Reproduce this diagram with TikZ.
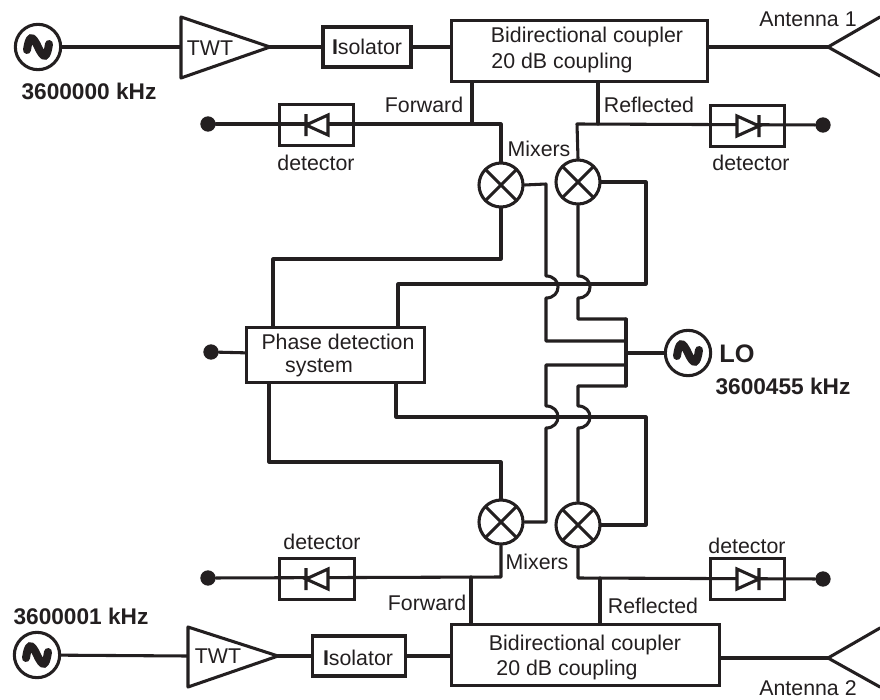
\documentclass[tikz,border=0pt]{standalone}
\usepackage{fontspec}
\setmainfont{Liberation Sans}
\begin{document}
\begin{tikzpicture}[x=0.75pt,y=-0.75pt,
  wire/.style={line width=2.3pt,line join=round,line cap=round,draw=ink},
  lab/.style={font=\fontsize{16}{18}\selectfont,text=ink,inner sep=0pt},
  blab/.style={font=\fontsize{17}{19}\selectfont\bfseries,text=ink,inner sep=0pt},
  block/.style={draw=ink,line width=2.3pt,fill=white,inner sep=0pt,font=\fontsize{16}{18}\selectfont,text=ink,align=center},
  mixer/.style={circle,draw=ink,line width=2.3pt,fill=white,minimum size=33pt,inner sep=0pt,
    path picture={\draw[line width=2.3pt,draw=ink]
      (path picture bounding box.north west)--(path picture bounding box.south east)
      (path picture bounding box.north east)--(path picture bounding box.south west);}},
  source/.style={circle,draw=ink,line width=2.3pt,fill=white,minimum size=34pt,inner sep=0pt,
    path picture={\draw[line width=6pt,draw=ink,line cap=round]
      ([shift={(-11,3)}]path picture bounding box.center)
      .. controls +(2,-14) and +(-6,-13) .. (path picture bounding box.center)
      .. controls +(6,13) and +(-2,14) .. ([shift={(11,-3)}]path picture bounding box.center);}},
  dot/.style={circle,fill=ink,draw=none,minimum size=11.5pt,inner sep=0pt},
  diode/.style={draw=ink,line width=2.3pt,line join=miter,fill=white}
]
\definecolor{ink}{HTML}{231F20}
\useasboundingbox (0,0) rectangle (880,699);
\fill[white] (0,0) rectangle (880,699);

% ---- junction coordinates
\coordinate (fjT) at (472,124);
\coordinate (rjT) at (598,124);
\coordinate (fjB) at (471,577);
\coordinate (rjB) at (600,578);
\coordinate (mixL) at (501,124);
\coordinate (mixR) at (577,124);
\coordinate (mixLb) at (501,577);
\coordinate (mixRb) at (578,578);
\coordinate (antA) at (828,47);
\coordinate (antB) at (828,658);
\coordinate (antAu) at (880,17);
\coordinate (antAd) at (880,76);
\coordinate (antBu) at (880,628);
\coordinate (antBd) at (880,687);
\coordinate (busT) at (626,319);
\coordinate (busB) at (626,386);

% ---- blocks
\node[source] (s1) at (38,47) {};
\node[source] (s2) at (37,655) {};
\node[source] (lo) at (688,353) {};
\node[block,minimum width=66pt,minimum height=30pt] (iso1) at (367,47) {\textbf{I}solator};
\node[block,minimum width=70pt,minimum height=30pt] (iso2) at (359,656) {};
\node[block,minimum width=192pt,minimum height=45.5pt] (cp1) at (579.5,51) {};
\node[block,minimum width=201pt,minimum height=45.5pt] (cp2) at (585.5,655) {};
\node[block,minimum width=133pt,minimum height=41pt] (pd) at (335.5,355) {};
\node[mixer] (m1) at (501,185) {};
\node[mixer] (m2) at (578,182) {};
\node[mixer] (m3) at (501,522) {};
\node[mixer] (m4) at (578,525) {};

\node[dot] (d1) at (208,124) {};
\node[dot] (d2) at (823,125) {};
\node[dot] (d3) at (208,578) {};
\node[dot] (d4) at (823,579) {};
\node[dot] (d5) at (211,352) {};

% ---- amplifiers (triangles)
\coordinate (t1i) at (181,47);
\coordinate (t1o) at (270,47);
\coordinate (t2i) at (188,656);
\coordinate (t2o) at (278,656);

% ---- wires
\draw[wire] (s1) -- (t1i);
\draw[wire] (t1o) -- (iso1);
\draw[wire] (iso1) -- (iso1 -| cp1.west);
\draw[wire] (s2) -- (t2i);
\draw[wire] (t2o) -- (iso2);
\draw[wire] (iso2) -- (iso2 -| cp2.west);
\draw[wire] (antA -| cp1.east) -- (antA);
\draw[wire] (antB -| cp2.east) -- (antB);
\draw[wire] (antAu) -- (antA) -- (antAd);
\draw[wire] (antBu) -- (antB) -- (antBd);

\draw[wire] (fjT |- cp1.south) -- (fjT);
\draw[wire] (rjT |- cp1.south) -- (rjT);
\draw[wire] (fjB |- cp2.north) -- (fjB);
\draw[wire] (rjB |- cp2.north) -- (rjB);

\draw[wire] (d1) -- (mixL) -- (m1.north);
\draw[wire] (d2) -- (mixR) -- (m2.north);
\draw[wire] (d3) -- (mixLb) -- (m3.south);
\draw[wire] (d4) -- (mixRb) -- (m4.south);
\draw[wire] (d5) -- (pd);

% mixer 1 IF to phase detection
\draw[wire] (m1.south) |- (273,259) -- (273,327);
\draw[wire] (m3.north) |- (269,462) -- (269,383);
% mixer 2 / 4 IF to phase detection
\draw[wire] (m2.east) -- (646,182) -- (646,284) -- (398,284) -- (398,327);
\draw[wire] (m4.east) -- (646,525) -- (646,417) -- (396,417) -- (396,383);
% LO distribution
\draw[wire] (busT) -- (busB);
\draw[wire] (lo) -- (lo -| busT);
\draw[wire] (m2.south) -- (578,276) .. controls (594,276) and (594,298) .. (578,298) -- (578,319) -- (busT);
\draw[wire] (m1.east) -- (546,184) -- (546,276) .. controls (562,276) and (562,298) .. (546,298) -- (546,341) -- (626,341);
\draw[wire] (m3.east) -- (546,522) -- (546,428) .. controls (562,428) and (562,406) .. (546,406) -- (546,365) -- (626,365);
\draw[wire] (m4.north) -- (578,428) .. controls (594,428) and (594,406) .. (578,406) -- (578,386) -- (busB);

% ---- re-stroke blocks over wires
\draw[wire,fill=white] (t1i |- 0,17) -- (t1o) -- (t1i |- 0,78) -- cycle;
\draw[wire,fill=white] (t2i |- 0,627) -- (t2o) -- (t2i |- 0,687) -- cycle;

% ---- detectors
\node[block,minimum width=56pt,minimum height=31pt,fill=none] (det1) at (316.5,125) {};
\node[block,minimum width=56pt,minimum height=31pt,fill=none] (det2) at (747.5,126) {};
\node[block,minimum width=56pt,minimum height=31pt,fill=none] (det3) at (317,579) {};
\node[block,minimum width=56pt,minimum height=31pt,fill=none] (det4) at (747.5,579) {};
\draw[diode] (328,115)--(328,135)--(306,125)--cycle (306,114)--(306,136);
\draw[diode] (328,569)--(328,589)--(306,579)--cycle (306,568)--(306,590);
\draw[diode] (737,116)--(737,136)--(759,126)--cycle (759,115)--(759,137);
\draw[diode] (737,569)--(737,589)--(759,579)--cycle (759,568)--(759,590);

% ---- texts
\node[lab] (ttwt1) at (210,48) {TWT};
\node[lab] (ttwt2) at (218,656) {TWT};
\node[lab] (tiso2) at (358,658) {\textbf{I}solator};
\node[lab] (tc1a) at (587,37) {Bidirectional coupler};
\node[lab] (tc1b) at (562,63) {20 dB coupling};
\node[lab] (tc2a) at (585,645) {Bidirectional coupler};
\node[lab] (tc2b) at (567,670) {20 dB coupling};
\node[lab] (ta1) at (808,19) {Antenna 1};
\node[lab] (ta2) at (808,688) {Antenna 2};
\node[blab] (f1) at (89,91) {3600000 kHz};
\node[blab] (f2) at (81,616) {3600001 kHz};
\node[blab] (f3) at (783,386) {3600455 kHz};
\node[blab,font=\fontsize{19}{19}\selectfont\bfseries] (tlo) at (737,354) {LO};
\node[lab] at (424,105) {Forward};
\node[lab] at (649,105) {Reflected};
\node[lab] at (427,603) {Forward};
\node[lab] at (653,606) {Reflected};
\node[lab] at (539,149) {Mixers};
\node[lab] at (537,562) {Mixers};
\node[lab] at (316,163) {detector};
\node[lab] at (751,163) {detector};
\node[lab] at (322,542) {detector};
\node[lab] at (747,546) {detector};
\node[lab] at (338,342) {Phase detection};
\node[lab] at (319,368) {system};
\end{tikzpicture}
\end{document}
